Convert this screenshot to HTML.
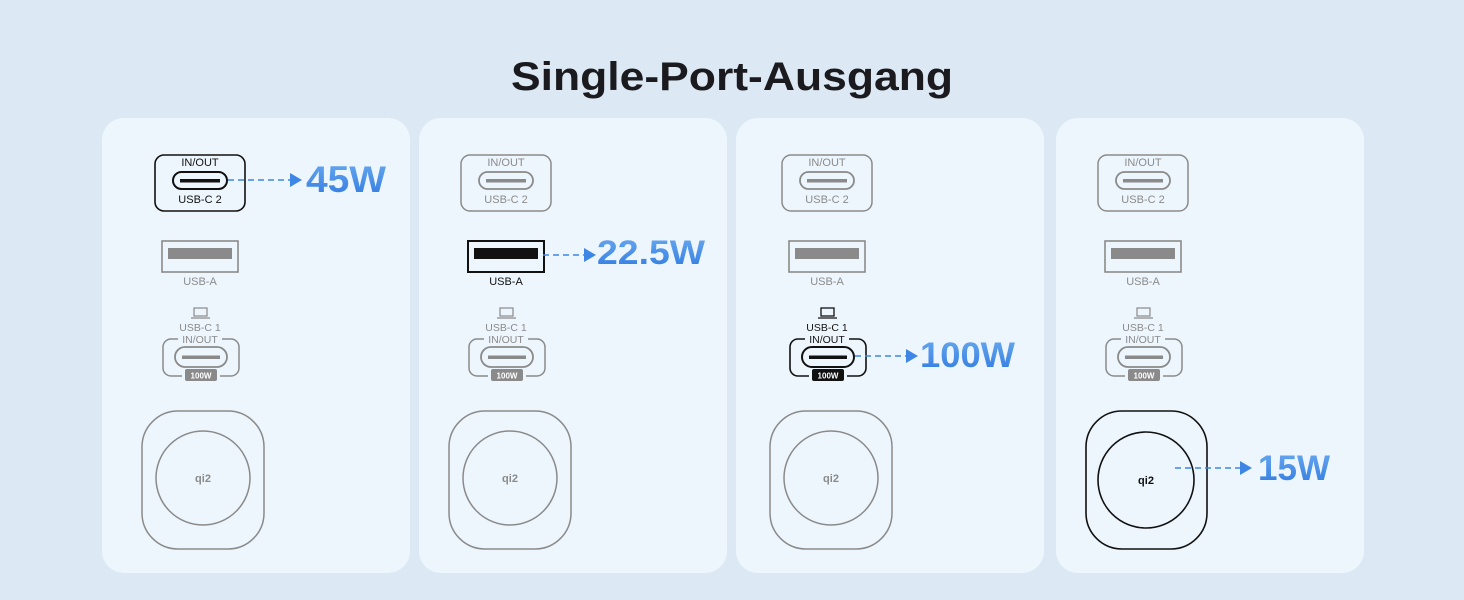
<!DOCTYPE html>
<html><head><meta charset="utf-8"><style>
html,body{margin:0;padding:0;background:#dce8f4;}
svg{display:block;font-family:"Liberation Sans",sans-serif;}
</style></head><body>
<svg width="1464" height="600" viewBox="0 0 1464 600" xmlns="http://www.w3.org/2000/svg">
<defs>
<linearGradient id="bl" x1="0" y1="0" x2="0" y2="1"><stop offset="0" stop-color="#6aaaf0"/><stop offset="1" stop-color="#2f7ae0"/></linearGradient>
</defs>
<rect width="1464" height="600" fill="#dce8f4"/>
<text x="732" y="90" text-anchor="middle" font-size="40" font-weight="bold" fill="#1b1b1f" textLength="442" lengthAdjust="spacingAndGlyphs">Single-Port-Ausgang</text>

<g fill="#eef6fd">
<rect x="102" y="118" width="308" height="455" rx="22"/>
<rect x="419" y="118" width="308" height="455" rx="22"/>
<rect x="736" y="118" width="308" height="455" rx="22"/>
<rect x="1056" y="118" width="308" height="455" rx="22"/>
</g>

<!-- PANEL 1 cx=200 qc=203 -->
<g>
<g stroke="#111" fill="none" stroke-width="1.6">
<rect x="155" y="155" width="90" height="56" rx="9"/>
<rect x="173" y="172" width="54" height="17" rx="8.5" stroke-width="2"/>
</g>
<rect x="178" y="158" width="44" height="7" fill="#eef6fd"/>
<rect x="180" y="179" width="40" height="3.5" fill="#111"/>
<text x="200" y="166" text-anchor="middle" font-size="11" fill="#111">IN/OUT</text>
<text x="200" y="203" text-anchor="middle" font-size="11" fill="#111">USB-C 2</text>
<g stroke="#8a8a8a" fill="none" stroke-width="1.6">
<rect x="162" y="241" width="76" height="31"/>
<rect x="168" y="288" width="0" height="0"/>
</g>
<rect x="168" y="248" width="64" height="11" fill="#8a8a8a"/>
<text x="200" y="285" text-anchor="middle" font-size="11" fill="#8a8a8a">USB-A</text>
<rect x="194" y="308" width="13" height="8" fill="none" stroke="#8a8a8a" stroke-width="1.2"/>
<line x1="191" y1="318" x2="210" y2="318" stroke="#8a8a8a" stroke-width="1.2"/>
<text x="200" y="331" text-anchor="middle" font-size="10.5" fill="#8a8a8a">USB-C 1</text>
<rect x="163" y="339" width="76" height="37" rx="8" fill="none" stroke="#8a8a8a" stroke-width="1.5"/>
<rect x="178" y="334" width="44" height="9" fill="#eef6fd"/>
<rect x="182" y="372" width="38" height="8" fill="#eef6fd"/>
<text x="200" y="343" text-anchor="middle" font-size="10.5" fill="#8a8a8a">IN/OUT</text>
<rect x="175" y="347" width="52" height="20" rx="10" fill="none" stroke="#8a8a8a" stroke-width="1.8"/>
<rect x="182" y="355.5" width="38" height="3.5" fill="#8a8a8a"/>
<rect x="185" y="369" width="32" height="12" rx="2" fill="#8a8a8a"/>
<text x="201" y="378.5" text-anchor="middle" font-size="8" font-weight="bold" fill="#fff">100W</text>
<rect x="142" y="411" width="122" height="138" rx="36" fill="none" stroke="#8a8a8a" stroke-width="1.5"/>
<circle cx="203" cy="478" r="47" fill="none" stroke="#8a8a8a" stroke-width="1.5"/>
<text x="203" y="482" text-anchor="middle" font-size="11" font-weight="bold" fill="#8a8a8a">qi2</text>
<line x1="228" y1="180" x2="292" y2="180" stroke="#3d86e6" stroke-width="1.6" stroke-dasharray="6 4"/>
<polygon points="290,173 302,180 290,187" fill="#3d86e6"/>
<text x="306" y="192" font-size="37" font-weight="bold" fill="url(#bl)" textLength="80" lengthAdjust="spacingAndGlyphs">45W</text>
</g>

<!-- PANEL 2 cx=506 qc=510 -->
<g>
<g stroke="#8a8a8a" fill="none" stroke-width="1.5">
<rect x="461" y="155" width="90" height="56" rx="9"/>
<rect x="479" y="172" width="54" height="17" rx="8.5" stroke-width="1.8"/>
</g>
<rect x="484" y="158" width="44" height="7" fill="#eef6fd"/>
<rect x="486" y="179" width="40" height="3.5" fill="#8a8a8a"/>
<text x="506" y="166" text-anchor="middle" font-size="11" fill="#8a8a8a">IN/OUT</text>
<text x="506" y="203" text-anchor="middle" font-size="11" fill="#8a8a8a">USB-C 2</text>
<rect x="468" y="241" width="76" height="31" fill="none" stroke="#111" stroke-width="2"/>
<rect x="474" y="248" width="64" height="11" fill="#111"/>
<text x="506" y="285" text-anchor="middle" font-size="11" fill="#111">USB-A</text>
<rect x="500" y="308" width="13" height="8" fill="none" stroke="#8a8a8a" stroke-width="1.2"/>
<line x1="497" y1="318" x2="516" y2="318" stroke="#8a8a8a" stroke-width="1.2"/>
<text x="506" y="331" text-anchor="middle" font-size="10.5" fill="#8a8a8a">USB-C 1</text>
<rect x="469" y="339" width="76" height="37" rx="8" fill="none" stroke="#8a8a8a" stroke-width="1.5"/>
<rect x="484" y="334" width="44" height="9" fill="#eef6fd"/>
<rect x="488" y="372" width="38" height="8" fill="#eef6fd"/>
<text x="506" y="343" text-anchor="middle" font-size="10.5" fill="#8a8a8a">IN/OUT</text>
<rect x="481" y="347" width="52" height="20" rx="10" fill="none" stroke="#8a8a8a" stroke-width="1.8"/>
<rect x="488" y="355.5" width="38" height="3.5" fill="#8a8a8a"/>
<rect x="491" y="369" width="32" height="12" rx="2" fill="#8a8a8a"/>
<text x="507" y="378.5" text-anchor="middle" font-size="8" font-weight="bold" fill="#fff">100W</text>
<rect x="449" y="411" width="122" height="138" rx="36" fill="none" stroke="#8a8a8a" stroke-width="1.5"/>
<circle cx="510" cy="478" r="47" fill="none" stroke="#8a8a8a" stroke-width="1.5"/>
<text x="510" y="482" text-anchor="middle" font-size="11" font-weight="bold" fill="#8a8a8a">qi2</text>
<line x1="543" y1="255" x2="586" y2="255" stroke="#3d86e6" stroke-width="1.6" stroke-dasharray="6 4"/>
<polygon points="584,248 596,255 584,262" fill="#3d86e6"/>
<text x="597" y="264" font-size="34" font-weight="bold" fill="url(#bl)" textLength="108" lengthAdjust="spacingAndGlyphs">22.5W</text>
</g>

<!-- PANEL 3 cx=827 qc=831 -->
<g>
<g stroke="#8a8a8a" fill="none" stroke-width="1.5">
<rect x="782" y="155" width="90" height="56" rx="9"/>
<rect x="800" y="172" width="54" height="17" rx="8.5" stroke-width="1.8"/>
</g>
<rect x="805" y="158" width="44" height="7" fill="#eef6fd"/>
<rect x="807" y="179" width="40" height="3.5" fill="#8a8a8a"/>
<text x="827" y="166" text-anchor="middle" font-size="11" fill="#8a8a8a">IN/OUT</text>
<text x="827" y="203" text-anchor="middle" font-size="11" fill="#8a8a8a">USB-C 2</text>
<rect x="789" y="241" width="76" height="31" fill="none" stroke="#8a8a8a" stroke-width="1.6"/>
<rect x="795" y="248" width="64" height="11" fill="#8a8a8a"/>
<text x="827" y="285" text-anchor="middle" font-size="11" fill="#8a8a8a">USB-A</text>
<rect x="821" y="308" width="13" height="8" fill="none" stroke="#111" stroke-width="1.3"/>
<line x1="818" y1="318" x2="837" y2="318" stroke="#111" stroke-width="1.3"/>
<text x="827" y="331" text-anchor="middle" font-size="10.5" fill="#111">USB-C 1</text>
<rect x="790" y="339" width="76" height="37" rx="8" fill="none" stroke="#111" stroke-width="1.6"/>
<rect x="805" y="334" width="44" height="9" fill="#eef6fd"/>
<rect x="809" y="372" width="38" height="8" fill="#eef6fd"/>
<text x="827" y="343" text-anchor="middle" font-size="10.5" fill="#111">IN/OUT</text>
<rect x="802" y="347" width="52" height="20" rx="10" fill="none" stroke="#111" stroke-width="2"/>
<rect x="809" y="355.5" width="38" height="3.5" fill="#111"/>
<rect x="812" y="369" width="32" height="12" rx="2" fill="#111"/>
<text x="828" y="378.5" text-anchor="middle" font-size="8" font-weight="bold" fill="#fff">100W</text>
<rect x="770" y="411" width="122" height="138" rx="36" fill="none" stroke="#8a8a8a" stroke-width="1.5"/>
<circle cx="831" cy="478" r="47" fill="none" stroke="#8a8a8a" stroke-width="1.5"/>
<text x="831" y="482" text-anchor="middle" font-size="11" font-weight="bold" fill="#8a8a8a">qi2</text>
<line x1="855" y1="356" x2="908" y2="356" stroke="#3d86e6" stroke-width="1.6" stroke-dasharray="6 4"/>
<polygon points="906,349 918,356 906,363" fill="#3d86e6"/>
<text x="920" y="367" font-size="35" font-weight="bold" fill="url(#bl)" textLength="95" lengthAdjust="spacingAndGlyphs">100W</text>
</g>

<!-- PANEL 4 cx=1143 qc=1147 -->
<g>
<g stroke="#8a8a8a" fill="none" stroke-width="1.5">
<rect x="1098" y="155" width="90" height="56" rx="9"/>
<rect x="1116" y="172" width="54" height="17" rx="8.5" stroke-width="1.8"/>
</g>
<rect x="1121" y="158" width="44" height="7" fill="#eef6fd"/>
<rect x="1123" y="179" width="40" height="3.5" fill="#8a8a8a"/>
<text x="1143" y="166" text-anchor="middle" font-size="11" fill="#8a8a8a">IN/OUT</text>
<text x="1143" y="203" text-anchor="middle" font-size="11" fill="#8a8a8a">USB-C 2</text>
<rect x="1105" y="241" width="76" height="31" fill="none" stroke="#8a8a8a" stroke-width="1.6"/>
<rect x="1111" y="248" width="64" height="11" fill="#8a8a8a"/>
<text x="1143" y="285" text-anchor="middle" font-size="11" fill="#8a8a8a">USB-A</text>
<rect x="1137" y="308" width="13" height="8" fill="none" stroke="#8a8a8a" stroke-width="1.2"/>
<line x1="1134" y1="318" x2="1153" y2="318" stroke="#8a8a8a" stroke-width="1.2"/>
<text x="1143" y="331" text-anchor="middle" font-size="10.5" fill="#8a8a8a">USB-C 1</text>
<rect x="1106" y="339" width="76" height="37" rx="8" fill="none" stroke="#8a8a8a" stroke-width="1.5"/>
<rect x="1121" y="334" width="44" height="9" fill="#eef6fd"/>
<rect x="1125" y="372" width="38" height="8" fill="#eef6fd"/>
<text x="1143" y="343" text-anchor="middle" font-size="10.5" fill="#8a8a8a">IN/OUT</text>
<rect x="1118" y="347" width="52" height="20" rx="10" fill="none" stroke="#8a8a8a" stroke-width="1.8"/>
<rect x="1125" y="355.5" width="38" height="3.5" fill="#8a8a8a"/>
<rect x="1128" y="369" width="32" height="12" rx="2" fill="#8a8a8a"/>
<text x="1144" y="378.5" text-anchor="middle" font-size="8" font-weight="bold" fill="#fff">100W</text>
<rect x="1086" y="411" width="121" height="138" rx="36" fill="none" stroke="#111" stroke-width="1.6"/>
<circle cx="1146" cy="480" r="48" fill="none" stroke="#111" stroke-width="1.6"/>
<text x="1146" y="484" text-anchor="middle" font-size="11" font-weight="bold" fill="#111">qi2</text>
<line x1="1175" y1="468" x2="1242" y2="468" stroke="#3d86e6" stroke-width="1.6" stroke-dasharray="6 4"/>
<polygon points="1240,461 1252,468 1240,475" fill="#3d86e6"/>
<text x="1258" y="480" font-size="35" font-weight="bold" fill="url(#bl)" textLength="72" lengthAdjust="spacingAndGlyphs">15W</text>
</g>
</svg>
</body></html>
